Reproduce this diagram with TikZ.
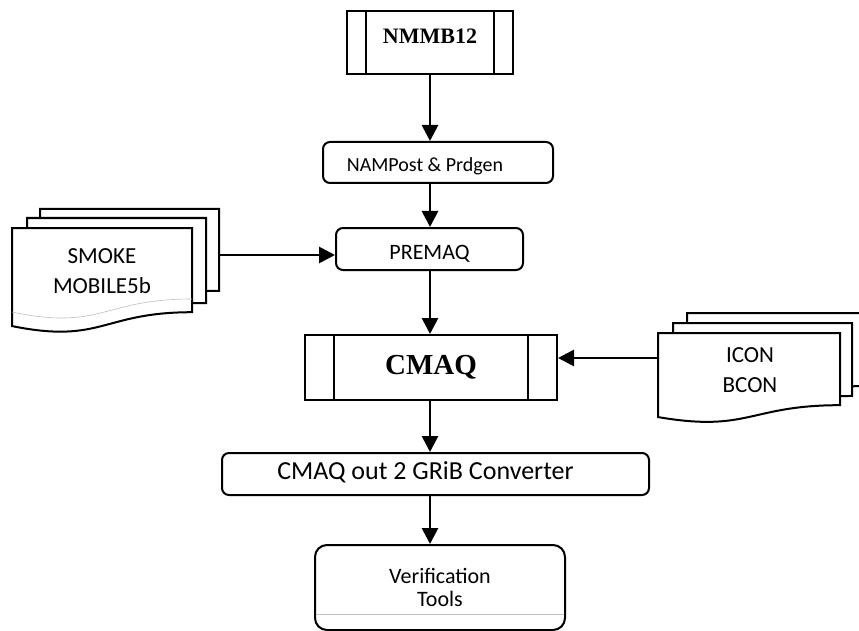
\documentclass[tikz,border=0pt]{standalone}
\usepackage{fontspec}
\setmainfont{Carlito}
\newfontfamily\timesfont{Liberation Serif}
\usetikzlibrary{positioning, arrows.meta, calc}

% one page of a stacked document shape: x, y (top left), width, height
\newcommand{\docsheet}[4]{%
  \draw[docline] (#1,#2) -- ({#1+#3},#2) -- ({#1+#3},{#2+0.802*#4})
    .. controls ({#1+0.5*#3},{#2+0.802*#4}) and ({#1+0.5*#3},{#2+1.1075*#4})
    .. (#1,{#2+0.934*#4}) -- cycle;}

\begin{document}
\begin{tikzpicture}[x=1pt, y=-1pt,
          pbox/.style={draw, line width=2pt, rounded corners=7pt, fill=white,
                       font=\fontsize{20}{24}\selectfont, align=center},
          sbox/.style={draw, line width=2pt, fill=white,
                       font=\timesfont\bfseries\fontsize{22}{26}\selectfont},
          docline/.style={line width=2pt, fill=white},
          doctext/.style={font=\fontsize{23}{30}\selectfont, align=center},
          band/.style={line width=2pt},
          arr/.style={-{Triangle[length=16pt, width=16pt]}, line width=2.8pt}
        ]
        \useasboundingbox (0,0) rectangle (859,631);
        \clip (0,0) rectangle (859,631);

        % main chain
        \node[sbox, minimum width=166pt, minimum height=63pt, text depth=13pt]
              (nmmb) at (430,43) {NMMB12};
        \node[pbox, minimum width=230pt, minimum height=41pt,
              text height=22pt, text depth=4pt]
              (nampost) at (438,162.5) {NAMPost \& Prdgen\hspace*{26pt}};
        \node[pbox, minimum width=187pt, minimum height=42pt,
              text height=23pt, text depth=2pt, font=\fontsize{22}{26}\selectfont]
              (premaq) at (429.5,249) {PREMAQ};
        \node[sbox, minimum width=252pt, minimum height=65pt,
              font=\timesfont\bfseries\fontsize{29}{34}\selectfont]
              (cmaq) at (431,367.5) {CMAQ};
        \node[pbox, minimum width=427pt, minimum height=42pt, text depth=7pt,
              font=\fontsize{26}{30}\selectfont]
              (conv) at (435.5,474) {CMAQ out 2 GRiB Converter\hspace*{20pt}};
        \node[pbox, rounded corners=12pt, minimum width=250pt, minimum height=85pt,
              font=\fontsize{22}{23}\selectfont]
              (veri) at (440,587.5) {Verification\\Tools};

        % side bands of the predefined processes
        \draw[band] ([xshift=20pt]nmmb.north west) -- ([xshift=20pt]nmmb.south west);
        \draw[band] ([xshift=-20pt]nmmb.north east) -- ([xshift=-20pt]nmmb.south east);
        \draw[band] ([xshift=30pt]cmaq.north west) -- ([xshift=30pt]cmaq.south west);
        \draw[band] ([xshift=-30pt]cmaq.north east) -- ([xshift=-30pt]cmaq.south east);
        \draw[gray!50, line width=0.6pt]
              ($(veri.south west)+(2,-17)$) -- ($(veri.south east)+(-2,-17)$);

        % input documents
        \docsheet{40}{209}{179}{102}
        \docsheet{27}{218}{179}{106}
        \docsheet{12}{228}{180}{105}
        \draw[gray!50, line width=0.6pt]
              (192,299) .. controls (102,299) and (102,331) .. (12,312);
        \node[doctext] (smoke) at (102,271) {SMOKE\\MOBILE5b};
        \coordinate (smokeout) at (219,255);

        \docsheet{687}{313}{182}{91}
        \docsheet{673}{323}{179}{91}
        \docsheet{658}{333}{182}{90}
        \node[doctext] (icon) at (750,370) {ICON\\BCON};
        \coordinate (iconout) at (658,358);

        % flow
        \draw[arr] (nmmb.south) -- (nmmb.south |- nampost.north);
        \draw[arr] (nmmb.south |- nampost.south) -- (nmmb.south |- premaq.north);
        \draw[arr] (nmmb.south |- premaq.south) -- (nmmb.south |- cmaq.north);
        \draw[arr] (nmmb.south |- cmaq.south) -- (nmmb.south |- conv.north);
        \draw[arr] (nmmb.south |- conv.south) -- (nmmb.south |- veri.north);
        \draw[arr] (smokeout) -- (smokeout -| premaq.west);
        \draw[arr] (iconout) -- (iconout -| cmaq.east);
      \end{tikzpicture}
\end{document}
